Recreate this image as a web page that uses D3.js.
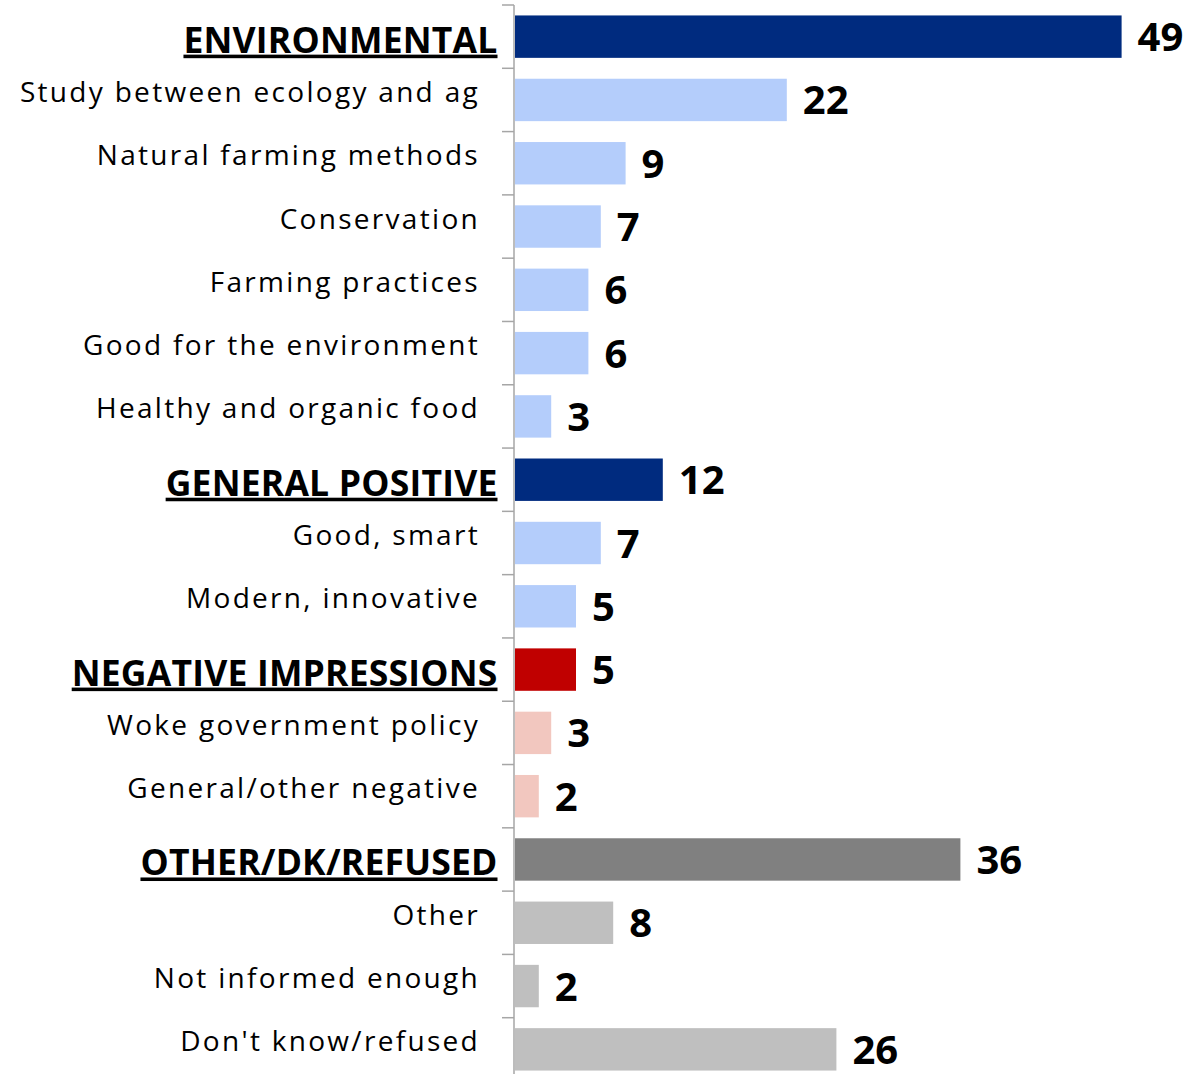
<!DOCTYPE html>
<html>
<head>
<meta charset="utf-8">
<script src="https://cdn.jsdelivr.net/npm/d3@7"></script>
<style>
  html, body { margin: 0; padding: 0; background: #fff; }
  svg { display: block; font-family: "Open Sans", sans-serif; }
</style>
</head>
<body>
<svg id="chart" width="1189" height="1074"></svg>
<script>
// Responses, in display order
const categories = [
  "ENVIRONMENTAL",
  "Study between ecology and ag",
  "Natural farming methods",
  "Conservation",
  "Farming practices",
  "Good for the environment",
  "Healthy and organic food",
  "GENERAL POSITIVE",
  "Good, smart",
  "Modern, innovative",
  "NEGATIVE IMPRESSIONS",
  "Woke government policy",
  "General/other negative",
  "OTHER/DK/REFUSED",
  "Other",
  "Not informed enough",
  "Don't know/refused"
];
const values = [49, 22, 9, 7, 6, 6, 3, 12, 7, 5, 5, 3, 2, 36, 8, 2, 26];
// Which group each row belongs to, and whether it is the group's header row
const groups = ["env","env","env","env","env","env","env","pos","pos","pos","neg","neg","neg","oth","oth","oth","oth"];
const isHeader = [true,false,false,false,false,false,false,true,false,false,true,false,false,true,false,false,false];

const headerColor = { env: "#002B7F", pos: "#002B7F", neg: "#C00000", oth: "#808080" };
const itemColor   = { env: "#B4CDFB", pos: "#B4CDFB", neg: "#F2C7BF", oth: "#BFBFBF" };

const rows = categories.map((c, i) => ({ c, v: values[i], g: groups[i], h: isHeader[i] }));

const svg = d3.select("#chart");
const axisX = 514;

const x = d3.scaleLinear().domain([0, 50]).range([axisX, axisX + 620]);
const y = d3.scaleBand()
  .domain(categories)
  .range([5, 1081])
  .paddingInner(0.33)
  .paddingOuter(0.165);

const step = y.step();
const gap = step - y.bandwidth();

// bars
svg.append("g").selectAll("rect")
  .data(rows)
  .join("rect")
  .attr("x", x(0) + 1)
  .attr("y", d => y(d.c))
  .attr("width", d => x(d.v) - x(0) - 1)
  .attr("height", y.bandwidth())
  .attr("fill", d => d.h ? headerColor[d.g] : itemColor[d.g]);

// category axis line and ticks between categories
const axis = svg.append("g").attr("stroke", "#A6A6A6").attr("stroke-width", 1.5);
axis.append("line")
  .attr("x1", axisX).attr("x2", axisX)
  .attr("y1", 5).attr("y2", 1081);
const tickYs = categories.map(c => y(c) - gap / 2).concat([y(categories[categories.length - 1]) + y.bandwidth() + gap / 2]);
axis.selectAll("line.tick")
  .data(tickYs)
  .join("line")
  .attr("class", "tick")
  .attr("x1", axisX - 12).attr("x2", axisX)
  .attr("y1", d => d).attr("y2", d => d);

// category labels
svg.append("g").selectAll("text")
  .data(rows)
  .join("text")
  .attr("x", d => d.h ? 497.5 : 480)
  .attr("y", d => y(d.c) + y.bandwidth() / 2 + (d.h ? 16 : 2))
  .attr("text-anchor", "end")
  .attr("font-size", d => d.h ? 35.5 : 28)
  .attr("font-weight", d => d.h ? 700 : 400)
  .attr("letter-spacing", d => d.h ? 0.2 : 2.3)
  .attr("text-decoration", d => d.h ? "underline" : null)
  .attr("fill", "#000")
  .text(d => d.c);

// value labels
svg.append("g").selectAll("text")
  .data(rows)
  .join("text")
  .attr("x", d => x(d.v) + 16)
  .attr("y", d => y(d.c) + y.bandwidth() / 2 + 14.5)
  .attr("font-size", 40)
  .attr("font-weight", 700)
  .attr("fill", "#000")
  .text(d => d.v);
</script>
</body>
</html>
